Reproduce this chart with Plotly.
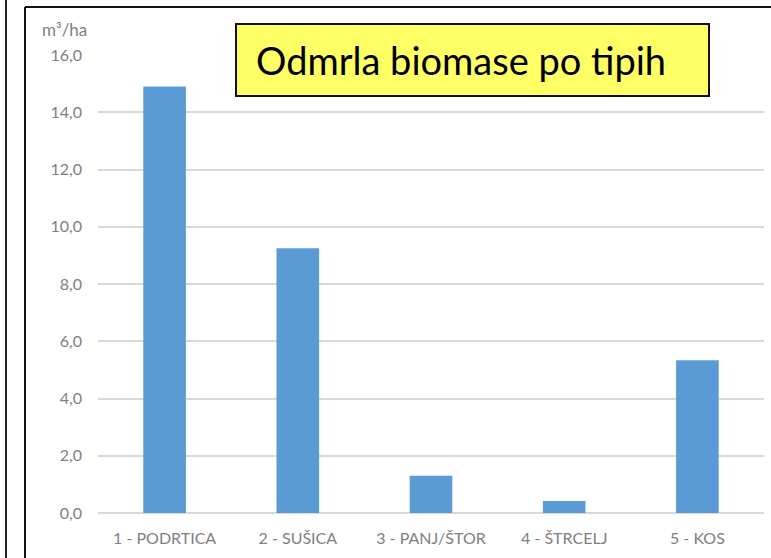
import plotly.graph_objects as go

categories = ["1 - PODRTICA", "2 - SUŠICA", "3 - PANJ/ŠTOR", "4 - ŠTRCELJ", "5 - KOS"]
values = [14.9, 9.25, 1.3, 0.42, 5.34]
y_ticks = [0, 2, 4, 6, 8, 10, 12, 14, 16]
y_tick_labels = ["0,0", "2,0", "4,0", "6,0", "8,0", "10,0", "12,0", "14,0", "16,0"]
title_text = "Odmrla biomase po tipih"
unit_text = "m³/ha"

W, H = 771, 558
L, R, T, B = 98, 7, 55, 45
pw, ph = W - L - R, H - T - B


def px(x):
    return (x - L) / pw


def py(y):
    return (H - B - y) / ph


fig = go.Figure()
fig.add_trace(go.Bar(x=categories, y=values, marker=dict(color="#5b9bd5", line=dict(width=0)),
                     showlegend=False))

fig.update_layout(
    width=W, height=H,
    margin=dict(l=L, r=R, t=T, b=B, pad=0),
    paper_bgcolor="white", plot_bgcolor="white",
    bargap=0.68,
    font=dict(family="Lato, Open Sans, sans-serif", color="#808080", size=16),
    xaxis=dict(showgrid=False, showline=False, ticks="", ticklabelstandoff=14,
               tickfont=dict(size=16, color="#808080")),
    yaxis=dict(range=[0, 16], tickvals=y_ticks, ticktext=y_tick_labels,
               gridcolor="#d9d9d9", gridwidth=1.5, zeroline=True, zerolinecolor="#d9d9d9",
               zerolinewidth=1.5, showline=False, ticks="", ticklabelstandoff=15,
               tickfont=dict(size=16, color="#808080")),
)

# frame lines
fig.add_shape(type="line", xref="paper", yref="paper", x0=px(6), x1=px(6), y0=py(-5), y1=py(H + 5),
              line=dict(color="#222222", width=2))
fig.add_shape(type="line", xref="paper", yref="paper", x0=px(25), x1=px(25), y0=py(7), y1=py(H + 5),
              line=dict(color="#111111", width=2))
fig.add_shape(type="line", xref="paper", yref="paper", x0=px(25), x1=px(W + 5), y0=py(7), y1=py(7),
              line=dict(color="#111111", width=2))

# title box
fig.add_shape(type="rect", xref="paper", yref="paper", x0=px(236), x1=px(709), y0=py(24), y1=py(96),
              fillcolor="#ffff66", line=dict(color="#111111", width=2))
fig.add_annotation(xref="paper", yref="paper", x=px(254), y=py(60), xanchor="left", yanchor="middle",
                   text=title_text, showarrow=False,
                   font=dict(family="Lato, Open Sans, sans-serif", size=38, color="black"))

fig.add_annotation(xref="paper", yref="paper", x=px(40), y=py(30), xanchor="left", yanchor="middle",
                   text=unit_text, showarrow=False, font=dict(size=17, color="#808080"))

fig.write_html("out.html", config={"displayModeBar": False},
               post_script="document.body.style.margin='0px';")
